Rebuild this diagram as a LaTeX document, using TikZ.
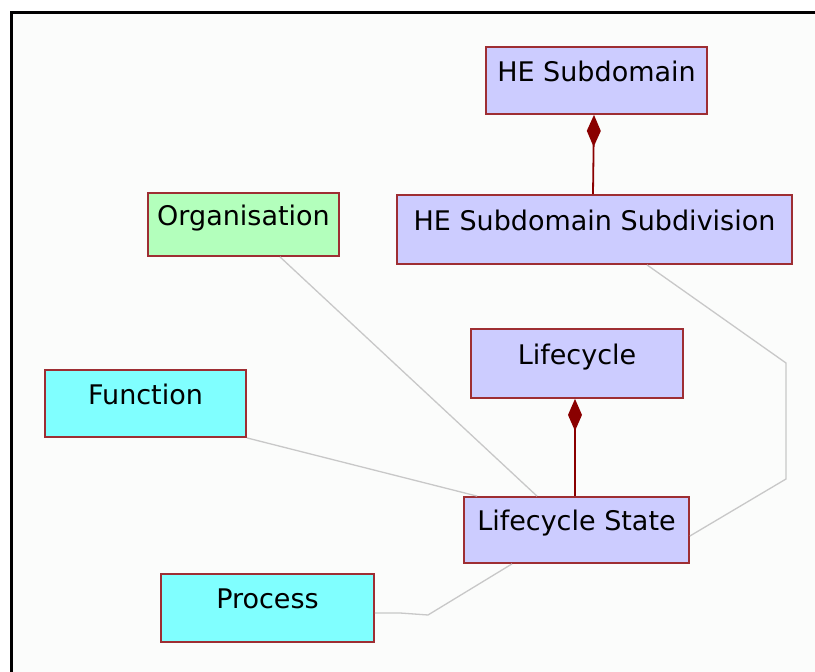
\documentclass[tikz,border=0pt]{standalone}
\usepackage{fontspec}
\setmainfont{DejaVu Sans}
\usepackage{tikz}
\usetikzlibrary{arrows.meta}

\definecolor{classfill}{HTML}{CCCCFF}
\definecolor{orgfill}{HTML}{B3FFBC}
\definecolor{actfill}{HTML}{80FFFF}
\definecolor{classedge}{HTML}{9E2E33}
\definecolor{compline}{HTML}{8A0000}
\definecolor{linkgray}{HTML}{C8C8C8}
\definecolor{canvasbg}{HTML}{FBFCFB}

\begin{document}
\begin{tikzpicture}[
            x=1pt, y=-1pt,
            cls/.style={rectangle, draw=classedge, line width=1.8pt, fill=classfill,
                        font=\fontsize{27}{32}\selectfont, text height=20pt, text depth=19pt,
                        inner sep=0pt},
            orgcls/.style={cls, fill=orgfill},
            actcls/.style={cls, fill=actfill},
            link/.style={draw=linkgray, line width=1.3pt},
            comp/.style={draw=compline, line width=1.8pt, {Diamond[length=32pt,width=14pt]}-}
        ]
            \useasboundingbox (0,0) rectangle (815,672);
            \fill[canvasbg] (11,12) rectangle (815,672);
            \draw[line width=3pt] (11,672) -- (11,12) -- (815,12);

            \node[cls, minimum width=221, minimum height=67](hesub) at (596.5,80.5){HE Subdomain};
            \node[cls, minimum width=395, minimum height=69](hesubdiv) at (594.5,229.5){HE Subdomain Subdivision};
            \node[orgcls, minimum width=191, minimum height=63](org) at (243.5,224.5){Organisation};
            \node[cls, minimum width=212, minimum height=69](lifecycle) at (577,363.5){Lifecycle};
            \node[actcls, minimum width=201, minimum height=67](func) at (145.5,403.5){Function};
            \node[cls, minimum width=225, minimum height=66](lcstate) at (576.5,530){Lifecycle State};
            \node[actcls, minimum width=213, minimum height=68](proc) at (267.5,608){Process};

            \coordinate (subbend1) at (786,363);
            \coordinate (subbend2) at (786,479);
            \coordinate (procbend1) at (400,613);
            \coordinate (procbend2) at (428,615);

            \draw[comp] ([xshift=-2.5pt]hesub.south) -- ([xshift=-1.5pt]hesubdiv.north);
            \draw[comp] ([xshift=-2pt]lifecycle.south) -- ([xshift=-1.5pt]lcstate.north);

            \draw[link] ([xshift=36.5pt]org.south) -- ([xshift=-39.5pt]lcstate.north);
            \draw[link] (func.south east) -- ([xshift=14pt]lcstate.north west);
            \draw[link] ([xshift=52.5pt]hesubdiv.south) -- (subbend1) -- (subbend2) -- ([yshift=-6pt]lcstate.east);
            \draw[link] ([yshift=-5pt]proc.east) -- (procbend1) -- (procbend2) -- ([xshift=-64.5pt]lcstate.south);
        \end{tikzpicture}
\end{document}
